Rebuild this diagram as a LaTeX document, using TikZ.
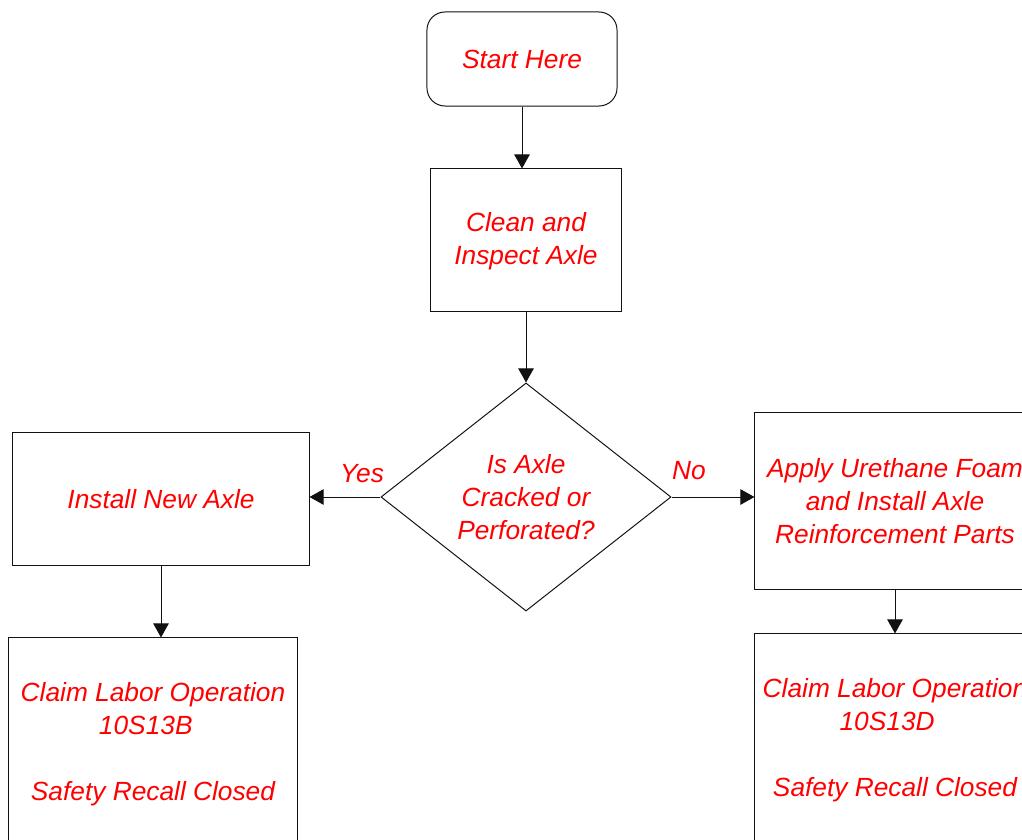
\documentclass[tikz,border=0pt]{standalone}
\usepackage{fontspec}
\setsansfont{Liberation Sans}
\usepackage{xcolor}
\usetikzlibrary{arrows.meta,positioning,shapes.geometric}
\definecolor{stepRed}{HTML}{FF0000}
\definecolor{lineGray}{HTML}{111111}
\tikzset{
  flowtext/.style={text=stepRed, font=\fontsize{18.7}{23.4}\selectfont\sffamily\itshape, align=center},
  stepbox/.style={draw=lineGray, line width=0.7pt, flowtext, inner sep=0pt},
  decide/.style={diamond, draw=lineGray, line width=0.7pt, flowtext, inner sep=0pt,
                 minimum width=7.25cm, minimum height=5.7cm},
  flow/.style={-{Triangle[length=10pt,width=11pt]}, draw=lineGray, line width=0.7pt},
}
\begin{document}
\begin{tikzpicture}[x=0.025cm, y=-0.025cm]
\useasboundingbox (0,0) rectangle (1022,840);
\clip (0,0) rectangle (1022,840);
% ---------- top: start and inspection ----------
\node[stepbox, rounded corners=0.45cm, minimum width=4.75cm, minimum height=2.35cm]
      (start) at (522,59) {Start Here};
\node[stepbox, minimum width=4.75cm, minimum height=3.55cm]
      (inspect) at (526,240) {\\[-8pt]Clean and\\Inspect Axle};
\node[decide] (cracked) at (526,497) {Is Axle\\Cracked or\\Perforated?};
% ---------- left branch: yes ----------
\node[stepbox, minimum width=7.4cm, minimum height=3.3cm]
      (newaxle) at (161,499) {Install New Axle};
\node[stepbox, minimum width=7.2cm, minimum height=5.3cm]
      (claimB) at (153,744) {Claim Labor Operation\\10S13B\rule{0.55em}{0pt}\\~\\Safety Recall Closed};
% ---------- right branch: no ----------
\node[stepbox, minimum width=7cm, minimum height=4.4cm]
      (foam) at (895,501) {Apply Urethane Foam\\and Install Axle\\Reinforcement Parts};
\node[stepbox, minimum width=7cm, minimum height=5.3cm]
      (claimD) at (895,740) {Claim Labor Operation\\10S13D\rule{0.6em}{0pt}\\~\\Safety Recall Closed};
% ---------- connectors ----------
\draw[flow] (start) -- (start|-inspect.north);
\draw[flow] (inspect) -- (cracked);
\draw[flow] (cracked.west) -- (cracked.west -| newaxle.east)
      node[flowtext, pos=.26, yshift=17pt] {Yes};
\draw[flow] (cracked.east) -- (cracked.east -| foam.west)
      node[flowtext, pos=.21, yshift=19pt] {No};
\draw[flow] (newaxle.south -| 161,0) -- (161,0 |- claimB.north);
\draw[flow] (foam) -- (claimD);
\end{tikzpicture}
\end{document}
